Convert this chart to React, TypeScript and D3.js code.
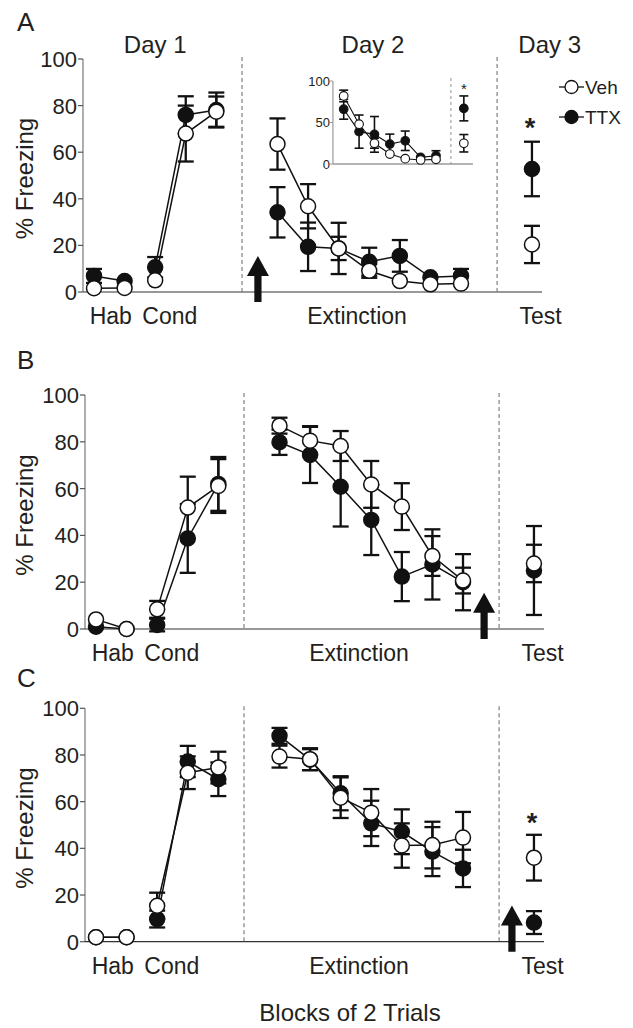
import React from "react";
import * as d3 from "d3";

// ---------- Data ----------
// Block positions: Hab(2), Cond(3), Extinction(7), Test(1)
const blockPos = [0, 1, 2, 3, 4, 6, 7, 8, 9, 10, 11, 12, 14.32];
const segments: [number, number][] = [[0, 1], [2, 4], [5, 11], [12, 12]];
const yTicks = [0, 20, 40, 60, 80, 100];

// Panel A
const vehA = [1.6, 1.7, 5, 68, 77.4, 63.5, 36.8, 18.7, 9.1, 4.7, 3.3, 3.6, 20.4];
const vehAErr = [0, 0, 0, 12, 6.5, 11, 9.5, 5, 3, 0, 0, 0, 8];
const ttxA = [6.9, 4.7, 10.6, 76, 78.1, 34.2, 19.4, 18.7, 13, 15.5, 6.3, 6.9, 52.8];
const ttxAErr = [3, 0, 4.4, 8, 7.5, 10.8, 10.4, 11, 6, 6.8, 0, 3, 11.7];

// Panel B
const vehB = [4.1, 0, 8.4, 51.9, 61.1, 86.9, 80.5, 78.2, 61.8, 52.3, 31.2, 20.7, 28];
const vehBErr = [0, 0, 3.6, 13.2, 11.5, 3.4, 6.2, 6.4, 10, 10, 8.5, 5.5, 8];
const ttxB = [1, 0, 1.7, 38.7, 62, 79.8, 74.4, 60.8, 46.6, 22.4, 27.6, 20, 25];
const ttxBErr = [0, 0, 2.7, 14.7, 11.5, 5.4, 12, 17, 15, 10.5, 15, 12, 19];

// Panel C
const vehC = [1.9, 1.9, 15.4, 72.4, 74.6, 79.3, 78.2, 61.7, 55.3, 41.2, 41.4, 44.6, 36];
const vehCErr = [0, 0, 5.6, 7, 6.8, 4.7, 4.7, 8.7, 10.1, 9.5, 10, 11, 9.8];
const ttxC = [1.9, 1.9, 9.7, 77.2, 69.6, 88.2, 78, 63.6, 50.7, 47.1, 38.6, 31.4, 8.2];
const ttxCErr = [0, 0, 3.6, 6.7, 7.2, 3.4, 4.5, 7.3, 9.7, 9.6, 10.5, 8, 4.9];

// Inset (panel A): extinction blocks 1-7 + test
const insetPos = [0, 1, 2, 3, 4, 5, 6, 7.81];
const insetVeh = [82, 48, 25, 12, 6.4, 4.8, 5.6, 25];
const insetVehErr = [7, 0, 6, 0, 0, 0, 0, 10.5];
const insetTtx = [66, 39, 35.7, 24, 28, 8, 10, 67];
const insetTtxErr = [12, 20, 21.5, 12, 11.7, 0, 6, 15];
const insetTicks = [0, 50, 100];

const phaseLabels = ["Hab", "Cond", "Extinction", "Test"];
const phaseLabelPos = [0.55, 2.48, 8.6, 14.6];
const dayLabels = ["Day 1", "Day 2", "Day 3"];
const dayLabelPos = [2.0, 9.12, 14.9];
const seriesNames = ["Veh", "TTX"];

const FONT = "'Liberation Sans', Arial, Helvetica, sans-serif";
const TXT = "#231f20";

type PanelProps = {
  letter: string;
  veh: number[];
  vehErr: number[];
  ttx: number[];
  ttxErr: number[];
  y0: number;
  y100: number;
  xr: [number, number];
  arrowX: number;
  starVal?: number;
  letterY: number;
};

function Arrow({ x, yTip, yEnd }: { x: number; yTip: number; yEnd: number }) {
  const hw = 11, sw = 3.6, hh = 20;
  const d = `M${x},${yTip} L${x + hw},${yTip + hh} L${x + sw},${yTip + hh} L${x + sw},${yEnd} L${x - sw},${yEnd} L${x - sw},${yTip + hh} L${x - hw},${yTip + hh} Z`;
  return <path d={d} fill="#111" />;
}

function Series({ vals, errs, x, y, fill, r, cap, ew, lw, pos, segs, layer }: any) {
  const line = d3.line<number>().x((i) => x(pos[i])).y((i) => y(vals[i]));
  if (layer === "err") {
    return (
      <g stroke="#111" strokeWidth={ew}>
        {vals.map((v: number, i: number) =>
          errs[i] > 0 ? (
            <g key={i}>
              <line x1={x(pos[i])} x2={x(pos[i])} y1={y(v + errs[i])} y2={y(v - errs[i])} />
              <line x1={x(pos[i]) - cap} x2={x(pos[i]) + cap} y1={y(v + errs[i])} y2={y(v + errs[i])} />
              <line x1={x(pos[i]) - cap} x2={x(pos[i]) + cap} y1={y(v - errs[i])} y2={y(v - errs[i])} />
            </g>
          ) : null
        )}
      </g>
    );
  }
  if (layer === "line") {
    return (
      <g fill="none" stroke="#111" strokeWidth={lw}>
        {segs.map(([a, b]: [number, number], k: number) =>
          b > a ? <path key={k} d={line(d3.range(a, b + 1)) || ""} /> : null
        )}
      </g>
    );
  }
  return (
    <g stroke="#111" strokeWidth={lw} fill={fill}>
      {vals.map((v: number, i: number) => (
        <circle key={i} cx={x(pos[i])} cy={y(v)} r={r} />
      ))}
    </g>
  );
}

function Panel(p: PanelProps) {
  const x = d3.scaleLinear().domain([0, 12]).range(p.xr);
  const y = d3.scaleLinear().domain([0, 100]).range([p.y0, p.y100]);
  const axL = x(-0.36);
  const axR = x(14.65);
  const dash1 = x(4.84);
  const dash2 = x(13.18);
  const common = { x, y, pos: blockPos, segs: segments, r: 7.5, cap: 8, ew: 2.3, lw: 1.5 };
  const testX = x(blockPos[12]);
  return (
    <g>
      <text x={17} y={p.letterY} fontSize={26} fill={TXT}>{p.letter}</text>
      {/* y axis */}
      <line x1={axL} x2={axL} y1={y(0)} y2={y(100)} stroke="#7a7a7a" strokeWidth={1.2} />
      {yTicks.map((t) => (
        <g key={t}>
          <line x1={axL - 5} x2={axL} y1={y(t)} y2={y(t)} stroke="#555" strokeWidth={1.2} />
          <text x={axL - 6} y={y(t)} dy="0.36em" textAnchor="end" fontSize={22} fill={TXT}>{t}</text>
        </g>
      ))}
      {/* x baseline */}
      <line x1={axL} x2={axR} y1={y(0)} y2={y(0)} stroke="#333" strokeWidth={1.2} />
      {/* dashed separators */}
      {[dash1, dash2].map((dx, i) => (
        <line key={i} x1={dx} x2={dx} y1={y(100) - 2} y2={y(0)} stroke="#808080" strokeWidth={1.2} strokeDasharray="4,3" />
      ))}
      <text transform={`translate(33,${(y(0) + y(100)) / 2 + 3}) rotate(-90)`} textAnchor="middle" fontSize={24} fill={TXT}>% Freezing</text>
      {phaseLabels.map((l, i) => (
        <text key={l} x={x(phaseLabelPos[i])} y={y(0) + 32} textAnchor="middle" fontSize={23} fill={TXT}>{l}</text>
      ))}
      <Series {...common} vals={p.ttx} errs={p.ttxErr} layer="err" />
      <Series {...common} vals={p.veh} errs={p.vehErr} layer="err" />
      <Series {...common} vals={p.ttx} errs={p.ttxErr} layer="line" />
      <Series {...common} vals={p.veh} errs={p.vehErr} layer="line" />
      <Series {...common} vals={p.ttx} errs={p.ttxErr} layer="pt" fill="#111" />
      <Series {...common} vals={p.veh} errs={p.vehErr} layer="pt" fill="#fff" />
      <Arrow x={x(p.arrowX)} yTip={y(15.5)} yEnd={y(0) + 10} />
      {p.starVal !== undefined && (
        <text x={testX - 2} y={y(p.starVal) + 15} textAnchor="middle" fontSize={27} fontWeight="bold" fill={TXT}>*</text>
      )}
    </g>
  );
}

function Inset() {
  const x = d3.scaleLinear().domain([0, 6]).range([343.7, 436]);
  const y = d3.scaleLinear().domain([0, 100]).range([164, 81]);
  const axL = x(-0.7);
  const axR = x(8.4);
  const dx = x(6.97);
  const common = { x, y, pos: insetPos, segs: [[0, 6], [7, 7]], r: 4.3, cap: 4.5, ew: 1.6, lw: 1.1 };
  return (
    <g>
      <line x1={axL} x2={axL} y1={y(0)} y2={y(100)} stroke="#9a9a9a" strokeWidth={1.2} />
      <line x1={axL} x2={axR} y1={y(0)} y2={y(0)} stroke="#9a9a9a" strokeWidth={1.4} />
      {insetTicks.map((t) => (
        <g key={t}>
          <line x1={axL - 3} x2={axL} y1={y(t)} y2={y(t)} stroke="#9a9a9a" strokeWidth={1} />
          <text x={axL - 3} y={y(t)} dy="0.36em" textAnchor="end" fontSize={13} fill={TXT}>{t}</text>
        </g>
      ))}
      <line x1={dx} x2={dx} y1={y(100) - 3} y2={y(0)} stroke="#909090" strokeWidth={1} strokeDasharray="3,3" />
      <Series {...common} vals={insetTtx} errs={insetTtxErr} layer="err" />
      <Series {...common} vals={insetVeh} errs={insetVehErr} layer="err" />
      <Series {...common} vals={insetTtx} errs={insetTtxErr} layer="line" />
      <Series {...common} vals={insetVeh} errs={insetVehErr} layer="line" />
      <Series {...common} vals={insetTtx} errs={insetTtxErr} layer="pt" fill="#111" />
      <Series {...common} vals={insetVeh} errs={insetVehErr} layer="pt" fill="#fff" />
      <text x={x(insetPos[7])} y={y(94) + 8} textAnchor="middle" fontSize={15} fill={TXT}>*</text>
    </g>
  );
}

export default function App() {
  const xA = d3.scaleLinear().domain([0, 12]).range([94, 461]);
  return (
    <svg width={633} height={1028} style={{ position: "absolute", left: 0, top: 0, fontFamily: FONT }}>
      <rect width={633} height={1028} fill="#fff" />
      {dayLabels.map((l, i) => (
        <text key={l} x={xA(dayLabelPos[i])} y={53} textAnchor="middle" fontSize={24} fill={TXT}>{l}</text>
      ))}
      <Panel letter="A" veh={vehA} vehErr={vehAErr} ttx={ttxA} ttxErr={ttxAErr} y0={292} y100={59} xr={[94, 461]} arrowX={5.36} starVal={73} letterY={31} />
      <Panel letter="B" veh={vehB} vehErr={vehBErr} ttx={ttxB} ttxErr={ttxBErr} y0={629} y100={395} xr={[96, 463]} arrowX={12.69} letterY={369} />
      <Panel letter="C" veh={vehC} vehErr={vehCErr} ttx={ttxC} ttxErr={ttxCErr} y0={941.7} y100={708.3} xr={[96, 463]} arrowX={13.6} starVal={53.4} letterY={687} />
      <Inset />
      {/* legend */}
      {seriesNames.map((n, i) => (
        <g key={n} transform={`translate(0,${87 + i * 30})`}>
          <line x1={559} x2={584} y1={0} y2={0} stroke="#111" strokeWidth={1.3} />
          <circle cx={571.5} cy={0} r={6.5} fill={i === 0 ? "#fff" : "#111"} stroke="#111" strokeWidth={1.3} />
          <text x={585} y={0} dy="0.36em" fontSize={19} fill={TXT}>{n}</text>
        </g>
      ))}
      <text x={350} y={1021} textAnchor="middle" fontSize={24} fill={TXT}>Blocks of 2 Trials</text>
    </svg>
  );
}
